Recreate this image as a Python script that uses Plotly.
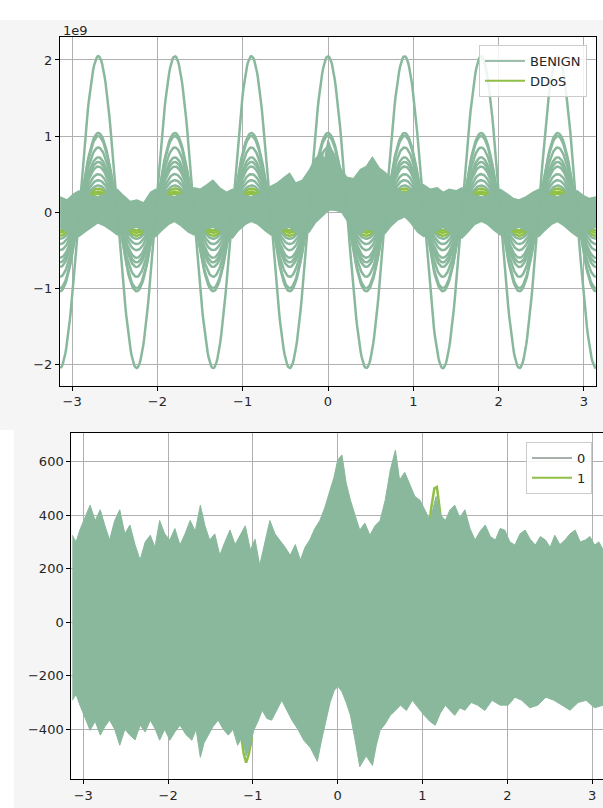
import numpy as np
import plotly.graph_objects as go

# ---------------- top panel: raw features (values in units of 1e9) ----------------
# Andrews rows whose weight sits on feature 15, i.e. the cos(7t) term
benign_cos7_e9 = [2.05, 1.04, 1.00, 0.85, 0.72, 0.66, 0.60, 0.50, 0.42, 0.35]
ddos_cos7_e9 = [0.31, 0.27, 0.24]

# envelope of the dense mass of low-amplitude BENIGN curves
band_t = [-3.14, -3.06, -2.98, -2.92, -2.85, -2.78, -2.70, -2.62, -2.54, -2.47,
          -2.40, -2.32, -2.24, -2.16, -2.08, -2.02, -1.95, -1.87, -1.80, -1.72,
          -1.64, -1.57, -1.50, -1.42, -1.35, -1.27, -1.19, -1.12, -1.05, -0.97,
          -0.90, -0.82, -0.74, -0.67, -0.60, -0.52, -0.45, -0.38, -0.30, -0.22,
          -0.15, -0.08, -0.04, 0.00, 0.04, 0.10, 0.16, 0.22, 0.30, 0.38,
          0.45, 0.52, 0.60, 0.67, 0.74, 0.82, 0.90, 0.97, 1.05, 1.12,
          1.20, 1.28, 1.35, 1.42, 1.50, 1.57, 1.64, 1.72, 1.80, 1.87,
          1.95, 2.02, 2.10, 2.17, 2.24, 2.32, 2.40, 2.47, 2.54, 2.62,
          2.69, 2.77, 2.85, 2.92, 2.99, 3.06, 3.14]
band_upper_e9 = [0.20, 0.16, 0.24, 0.28, 0.20, 0.22, 0.20, 0.24, 0.26, 0.30,
                 0.22, 0.14, 0.16, 0.12, 0.26, 0.30, 0.24, 0.22, 0.20, 0.24,
                 0.22, 0.32, 0.30, 0.36, 0.42, 0.32, 0.26, 0.30, 0.28, 0.22,
                 0.20, 0.24, 0.26, 0.34, 0.38, 0.45, 0.51, 0.38, 0.42, 0.55,
                 0.70, 0.78, 0.68, 0.95, 0.82, 0.70, 0.55, 0.46, 0.44, 0.56,
                 0.60, 0.72, 0.58, 0.52, 0.44, 0.30, 0.24, 0.30, 0.34, 0.36,
                 0.30, 0.32, 0.26, 0.30, 0.28, 0.32, 0.26, 0.22, 0.20, 0.22,
                 0.26, 0.30, 0.24, 0.18, 0.16, 0.20, 0.26, 0.30, 0.24, 0.22,
                 0.20, 0.24, 0.26, 0.28, 0.22, 0.18, 0.20]
band_lower_e9 = [-0.20, -0.26, -0.30, -0.32, -0.26, -0.20, -0.14, -0.18, -0.24, -0.30,
                 -0.26, -0.22, -0.20, -0.24, -0.28, -0.32, -0.24, -0.16, -0.12, -0.18,
                 -0.26, -0.30, -0.26, -0.22, -0.20, -0.24, -0.30, -0.34, -0.24, -0.16,
                 -0.12, -0.16, -0.24, -0.30, -0.26, -0.22, -0.20, -0.26, -0.30, -0.26,
                 -0.14, -0.06, -0.02, 0.02, 0.03, 0.02, 0.00, -0.10, -0.24, -0.28,
                 -0.22, -0.24, -0.30, -0.28, -0.18, -0.10, -0.06, -0.14, -0.26, -0.32,
                 -0.30, -0.24, -0.20, -0.26, -0.30, -0.34, -0.26, -0.16, -0.12, -0.16,
                 -0.24, -0.30, -0.26, -0.22, -0.20, -0.24, -0.28, -0.32, -0.24, -0.16,
                 -0.12, -0.18, -0.26, -0.32, -0.28, -0.24, -0.20]

# ---------------- bottom panel: scaled features ----------------
dense_upper_t = [-3.13, -3.085, -3.04, -2.98, -2.92, -2.86, -2.80, -2.745, -2.69, -2.63,
                 -2.57, -2.51, -2.45, -2.39, -2.33, -2.27, -2.21, -2.155, -2.10, -2.04,
                 -1.98, -1.92, -1.86, -1.80, -1.74, -1.68, -1.62, -1.565, -1.51, -1.45,
                 -1.39, -1.33, -1.27, -1.21, -1.15, -1.09, -1.03, -0.975, -0.92, -0.86,
                 -0.80, -0.74, -0.68, -0.62, -0.56, -0.50, -0.44, -0.385, -0.33, -0.27,
                 -0.21, -0.15, -0.09, -0.045, 0.00, 0.05, 0.10, 0.15, 0.205, 0.26,
                 0.32, 0.38, 0.44, 0.50, 0.56, 0.62, 0.68, 0.73, 0.79, 0.85,
                 0.91, 0.97, 1.03, 1.09, 1.16, 1.215, 1.27, 1.325, 1.38, 1.44,
                 1.50, 1.56, 1.62, 1.68, 1.74, 1.80, 1.86, 1.915, 1.97, 2.03,
                 2.09, 2.15, 2.21, 2.27, 2.33, 2.39, 2.45, 2.505, 2.56, 2.62,
                 2.68, 2.74, 2.80, 2.86, 2.92, 2.975, 3.03, 3.08, 3.13]
dense_upper = [325, 300, 345, 390, 437, 380, 420, 360, 307, 380,
               420, 330, 363, 290, 232, 300, 325, 280, 380, 330,
               307, 350, 288, 330, 380, 340, 437, 360, 307, 330,
               250, 300, 344, 290, 325, 360, 270, 310, 213, 300,
               380, 330, 307, 280, 250, 290, 232, 280, 307, 350,
               380, 430, 494, 540, 606, 625, 520, 456, 400, 344,
               370, 325, 360, 380, 456, 568, 643, 531, 560, 512,
               470, 456, 420, 380, 470, 400, 380, 420, 437, 390,
               420, 350, 307, 340, 363, 320, 307, 350, 344, 300,
               288, 330, 344, 310, 288, 320, 307, 280, 325, 290,
               307, 330, 344, 300, 307, 320, 288, 300, 270]
dense_lower_t = [-3.13, -3.085, -3.04, -2.98, -2.92, -2.86, -2.80, -2.745, -2.69, -2.63,
                 -2.57, -2.51, -2.45, -2.39, -2.33, -2.27, -2.21, -2.15, -2.10, -2.04,
                 -1.98, -1.92, -1.86, -1.79, -1.72, -1.67, -1.62, -1.575, -1.53, -1.47,
                 -1.41, -1.35, -1.29, -1.235, -1.18, -1.13, -1.08, -1.03, -0.99, -0.94,
                 -0.89, -0.835, -0.78, -0.72, -0.66, -0.60, -0.54, -0.47, -0.40, -0.32,
                 -0.24, -0.19, -0.14, -0.09, -0.04, 0.005, 0.05, 0.10, 0.15, 0.205,
                 0.26, 0.335, 0.41, 0.455, 0.50, 0.56, 0.62, 0.68, 0.74, 0.81,
                 0.88, 0.95, 1.02, 1.085, 1.15, 1.21, 1.27, 1.325, 1.38, 1.44,
                 1.50, 1.575, 1.65, 1.735, 1.82, 1.915, 2.01, 2.09, 2.17, 2.265,
                 2.36, 2.455, 2.55, 2.645, 2.74, 2.835, 2.93, 3.03, 3.13]
dense_lower = [-292, -270, -310, -360, -404, -370, -422, -390, -366, -400,
               -460, -400, -422, -440, -385, -410, -366, -400, -441, -400,
               -441, -410, -385, -420, -441, -400, -505, -450, -422, -390,
               -366, -400, -422, -400, -460, -430, -500, -460, -404, -370,
               -329, -360, -366, -330, -292, -330, -366, -400, -441, -470,
               -520, -440, -366, -300, -254, -240, -260, -300, -348, -440,
               -540, -500, -535, -460, -404, -380, -348, -330, -310, -330,
               -292, -320, -348, -370, -385, -340, -310, -330, -348, -320,
               -329, -300, -310, -330, -292, -310, -310, -280, -292, -320,
               -310, -280, -292, -310, -329, -300, -292, -320, -310]

# class-1 traces poking out of the dense band
class1_peak_t = [1.06, 1.10, 1.14, 1.17, 1.20, 1.24]
class1_peak = [300, 420, 500, 505, 430, 320]
class1_dip_t = [-1.14, -1.11, -1.08, -1.05, -1.01]
class1_dip = [-420, -490, -525, -495, -430]

BENIGN_C = "#89b89c"
DDOS_C = "#8fc045"
FONT = dict(family="DejaVu Sans", size=13, color="#262626")


def andrews(row, t):
    """f(t) = x1/sqrt(2) + x2 sin t + x3 cos t + x4 sin 2t + x5 cos 2t + ..."""
    out = np.full_like(t, row[0] / np.sqrt(2.0))
    for i, c in enumerate(row[1:], start=1):
        k = (i + 1) // 2
        out = out + c * (np.sin(k * t) if i % 2 == 1 else np.cos(k * t))
    return out


def cos7_row(a):
    return [0.0] * 14 + [a]


t = np.linspace(-np.pi, np.pi, 600)
fig = go.Figure()

# --- top panel ---
for a in ddos_cos7_e9:
    fig.add_trace(go.Scatter(x=t, y=andrews(cos7_row(a), t), mode="lines",
                             line=dict(color=DDOS_C, width=2.5), showlegend=False,
                             hoverinfo="skip", xaxis="x", yaxis="y"))
fig.add_trace(go.Scatter(x=band_t + band_t[::-1], y=band_upper_e9 + band_lower_e9[::-1],
                         fill="toself", fillcolor=BENIGN_C, mode="lines",
                         line=dict(color=BENIGN_C, width=1.5), showlegend=False,
                         hoverinfo="skip", xaxis="x", yaxis="y"))
for a in benign_cos7_e9:
    fig.add_trace(go.Scatter(x=t, y=andrews(cos7_row(a), t), mode="lines",
                             line=dict(color=BENIGN_C, width=2.5), showlegend=False,
                             hoverinfo="skip", xaxis="x", yaxis="y"))

# --- bottom panel: class-1 tips first, the dense class-0 mass over them ---
for xs, ys in [(class1_peak_t, class1_peak), (class1_dip_t, class1_dip)]:
    fig.add_trace(go.Scatter(x=xs, y=ys, mode="lines", line=dict(color=DDOS_C, width=2.5),
                             showlegend=False, hoverinfo="skip", xaxis="x2", yaxis="y2"))
fig.add_trace(go.Scatter(x=dense_upper_t + dense_lower_t[::-1],
                         y=dense_upper + dense_lower[::-1],
                         fill="toself", fillcolor=BENIGN_C, mode="lines",
                         line=dict(color=BENIGN_C, width=1), showlegend=False,
                         hoverinfo="skip", xaxis="x2", yaxis="y2"))

# legend entries
for name, col, lg, xa, ya in [("BENIGN", "#9bbfaa", "legend", "x", "y"),
                              ("DDoS", DDOS_C, "legend", "x", "y"),
                              ("0", "#a8b0aa", "legend2", "x2", "y2"),
                              ("1", DDOS_C, "legend2", "x2", "y2")]:
    fig.add_trace(go.Scatter(x=[None], y=[None], mode="lines", name=name,
                             line=dict(color=col, width=2), legend=lg,
                             xaxis=xa, yaxis=ya))

W, H = 603, 808
axis_common = dict(showline=True, mirror=True, linecolor="black", linewidth=1,
                   ticks="outside", ticklen=4, tickcolor="black", tickwidth=1,
                   showgrid=True, gridcolor="#b0b0b0", gridwidth=0.8,
                   zeroline=False, tickfont=FONT)

legend_common = dict(bgcolor="rgba(255,255,255,0.85)", bordercolor="#cccccc",
                     borderwidth=1, font=FONT, xanchor="right", yanchor="top",
                     itemwidth=40, tracegroupgap=0)

fig.update_layout(
    width=W, height=H, margin=dict(l=0, r=0, t=0, b=0),
    paper_bgcolor="#f5f5f5", plot_bgcolor="white", font=FONT,
    xaxis=dict(domain=[60 / W, 596 / W], range=[-np.pi, np.pi],
               tickvals=[-3, -2, -1, 0, 1, 2, 3], anchor="y", **axis_common),
    yaxis=dict(domain=[1 - 385.7 / H, 1 - 37.3 / H], range=[-2.281, 2.298],
               tickvals=[-2, -1, 0, 1, 2], anchor="x", **axis_common),
    xaxis2=dict(domain=[71.3 / W, 1.0], range=[-np.pi, 3.1285],
                tickvals=[-3, -2, -1, 0, 1, 2, 3], anchor="y2", **axis_common),
    yaxis2=dict(domain=[1 - 779.3 / H, 1 - 432.7 / H], range=[-587, 708],
                tickvals=[-400, -200, 0, 200, 400, 600], anchor="x2", **axis_common),
    legend=dict(x=587 / W, y=1 - 45 / H, **legend_common),
    legend2=dict(x=592 / W, y=1 - 442 / H, **legend_common),
    annotations=[dict(text="1e9", x=61 / W, y=1 - 30 / H, xref="paper", yref="paper",
                      xanchor="left", yanchor="middle", showarrow=False, font=FONT)],
    shapes=[
        dict(type="rect", xref="paper", yref="paper", x0=0, x1=1, y0=1 - 20 / H, y1=1,
             fillcolor="white", line=dict(width=0), layer="below"),
        dict(type="rect", xref="paper", yref="paper", x0=0, x1=14 / W, y0=0, y1=1 - 430 / H,
             fillcolor="white", line=dict(width=0), layer="below"),
    ],
)

fig.write_html("out.html")
